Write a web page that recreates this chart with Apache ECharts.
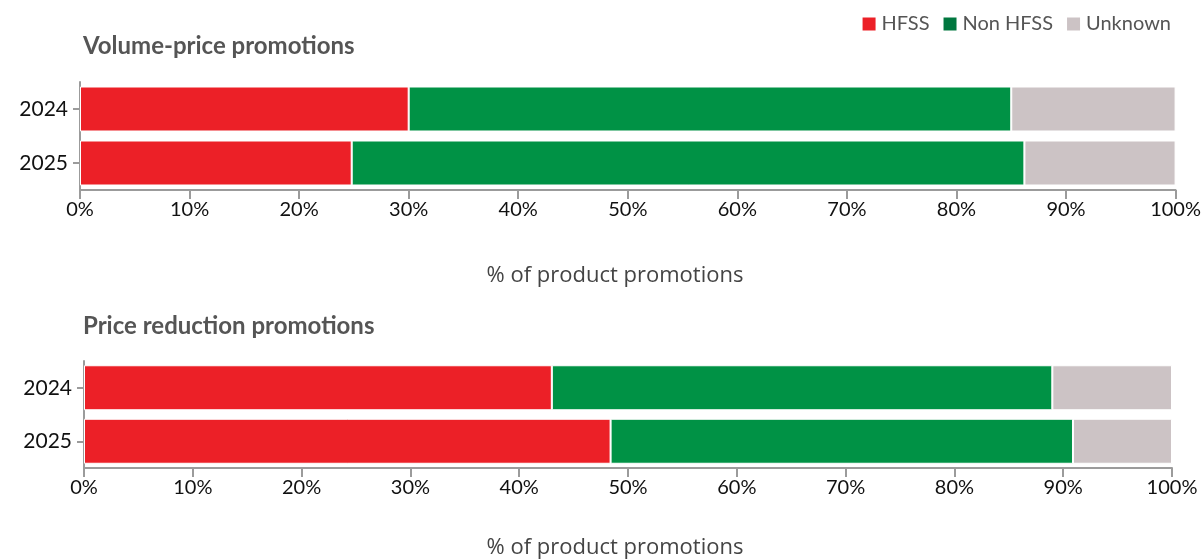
<!DOCTYPE html>
<html>
<head>
<meta charset="utf-8">
<script src="https://cdn.jsdelivr.net/npm/echarts@6/dist/echarts.min.js"></script>
<style>html,body{margin:0;padding:0;background:#fff}#c{width:1204px;height:560px}</style>
</head>
<body>
<div id="c"></div>
<script>
const years = ['2024', '2025'];
const seriesNames = ['HFSS', 'Non HFSS', 'Unknown'];
// Volume-price promotions (% of product promotions)
const volHFSS = [30.0, 24.8];
const volNonHFSS = [55.0, 61.4];
const volUnknown = [15.0, 13.8];
// Price reduction promotions
const priceHFSS = [43.0, 48.4];
const priceNonHFSS = [46.0, 42.5];
const priceUnknown = [11.0, 9.1];
const xTicks = [0, 10, 20, 30, 40, 50, 60, 70, 80, 90, 100];
const panelTitles = ['Volume-price promotions', 'Price reduction promotions'];
const axisTitle = '% of product promotions';

const colors = ['#EC2027', '#009245', '#CCC3C5'];
const legendColors = ['#EC2027', '#00773F', '#CCC3C5'];
const font = 'Lato, "Noto Sans", sans-serif';
const wideFont = '"Open Sans", Lato, sans-serif';

const chart = echarts.init(document.getElementById('c'));

function xAxis(gi) {
  return {
    gridIndex: gi, type: 'value', min: xTicks[0], max: xTicks[xTicks.length - 1], interval: 10,
    axisLine: { show: true, lineStyle: { color: '#9b9b9b', width: 2 } },
    axisTick: { show: true, length: 9, lineStyle: { color: '#9b9b9b', width: 2 } },
    splitLine: { show: false },
    axisLabel: { formatter: '{value}%', color: '#111', fontSize: 20, fontFamily: font, margin: 10 }
  };
}
function yAxis(gi) {
  return {
    gridIndex: gi, type: 'category', data: years, inverse: true,
    axisLine: { show: true, lineStyle: { color: '#9b9b9b', width: 2 } },
    axisTick: { show: true, alignWithLabel: true, length: 7, lineStyle: { color: '#9b9b9b', width: 2 } },
    axisLabel: { color: '#111', fontSize: 21, fontFamily: font, margin: 12 },
    splitLine: { show: false }
  };
}
const groups = [[volHFSS, volNonHFSS, volUnknown], [priceHFSS, priceNonHFSS, priceUnknown]];
const series = [];
groups.forEach((g, gi) => {
  g.forEach((vals, si) => {
    series.push({
      name: seriesNames[si], type: 'bar', stack: 's' + gi,
      xAxisIndex: gi, yAxisIndex: gi, data: vals, barWidth: 45,
      itemStyle: { color: colors[si], borderColor: '#fff', borderWidth: 1 },
      emphasis: { disabled: true }
    });
  });
});

const titleStyle = { color: '#555', fontSize: 24, fontWeight: 'bold', fontFamily: font };
const axisTitleStyle = { color: '#444', fontSize: 22, fontWeight: 'normal', fontFamily: wideFont };

chart.setOption({
  animation: false,
  title: [
    { text: panelTitles[0], left: 78, top: 29, textStyle: titleStyle },
    { text: panelTitles[1], left: 78, top: 309, textStyle: titleStyle },
    { text: axisTitle, left: 610, textAlign: 'center', top: 260, textStyle: axisTitleStyle },
    { text: axisTitle, left: 610, textAlign: 'center', top: 532, textStyle: axisTitleStyle }
  ],
  legend: {
    right: 28, top: 9, itemWidth: 15, itemHeight: 15, itemGap: 12,
    icon: 'rect',
    textStyle: { color: '#555', fontSize: 20, fontFamily: font },
    data: seriesNames.map((n, i) => ({ name: n, itemStyle: { color: legendColors[i] } }))
  },
  grid: [
    { left: 80, right: 28, top: 82, height: 108 },
    { left: 84, right: 32, top: 361, height: 107 }
  ],
  xAxis: [xAxis(0), xAxis(1)],
  yAxis: [yAxis(0), yAxis(1)],
  series: series
});
</script>
</body>
</html>
